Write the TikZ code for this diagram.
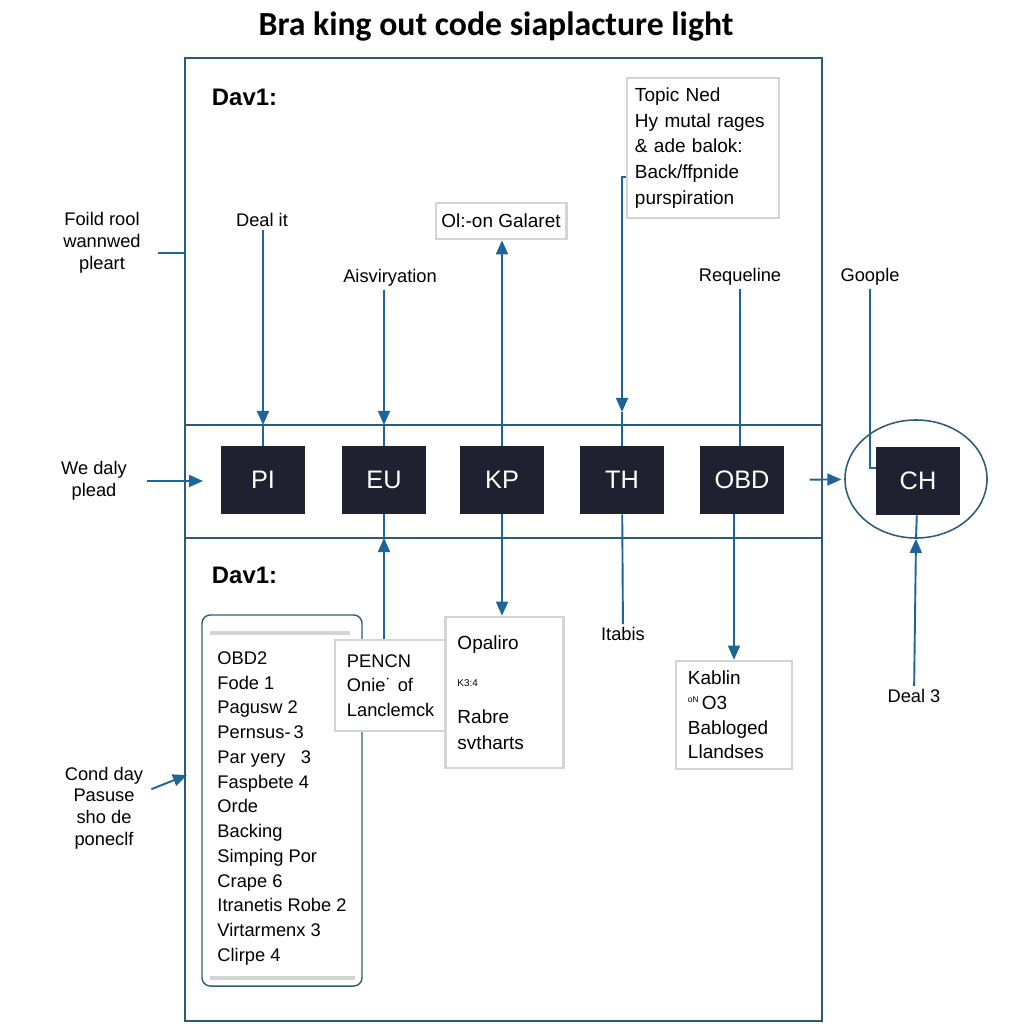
\documentclass[tikz,border=0pt]{standalone}
\usepackage{fontspec}
\setmainfont{Liberation Sans}
\newfontfamily\titlefont{Carlito}
\usetikzlibrary{arrows.meta,positioning,shapes.geometric}

\definecolor{framecol}{HTML}{2D5B76}
\definecolor{wirecol}{HTML}{1F6496}
\definecolor{chipcol}{HTML}{1F2130}
\definecolor{boxgray}{HTML}{D4D4D4}

\begin{document}
\begin{tikzpicture}[
    x=0.025cm, y=-0.025cm, % pixel grid of the reference
    lbl/.style={align=center,font=\fontsize{13}{15.5}\selectfont,inner sep=2pt},
    head/.style={anchor=west,font=\fontsize{17}{20}\selectfont\bfseries},
    chip/.style={fill=chipcol,text=white,minimum width=2.1cm,minimum height=1.7cm,font=\fontsize{18}{21}\selectfont},
    tbox/.style={draw=boxgray,line width=1.8pt,fill=white,align=left,inner xsep=0.3cm,font=\fontsize{13.5}{18.4}\selectfont},
    listbox/.style={draw=framecol,line width=1pt,rounded corners=6pt,fill=white,minimum width=4cm,minimum height=9.275cm},
    listtext/.style={align=left,font=\fontsize{13}{17.6}\selectfont},
    outline/.style={draw=framecol,line width=1.4pt},
    wire/.style={draw=wirecol,line width=1.35pt},
    arrow/.style={wire,-{Triangle[length=10pt,width=8.5pt]}}
]
\useasboundingbox (0,0) rectangle (1024,1024);

% Title and frame
\node[font=\titlefont\fontsize{24}{28}\selectfont\bfseries] (title) at (496,27) {Bra king out code siaplacture light};
\draw[outline] (185,58) rectangle (822,1021);
\coordinate (bandtop) at (185,425);
\coordinate (bandbot) at (185,538);
\draw[outline,line width=1.2pt] (bandtop) -- (822,425);
\draw[outline,line width=1.2pt] (bandbot) -- (822,538);

\node[head] (dav1) at (207,97) {Dav1:};
\node[head] (dav2) at (207,575) {Dav1:};

% Chips
\foreach \n/\x in {PI/263,EU/384,KP/502,TH/622,OBD/742}
    \node[chip] (\n) at (\x,480) {\n};
\node[chip] (CH) at (918,481) {CH};
\node[draw=framecol,line width=1.1pt,ellipse,minimum width=3.55cm,minimum height=2.95cm] (ring) at (916,479) {};

% Labels
\node[lbl] (foild) at (102,243) {Foild rool\\wannwed\\pleart};
\node[lbl] (daly) at (94,481) {We daly\\plead};
\node[lbl] (cond) at (104,808) {Cond day\\Pasuse\\sho de\\poneclf};
\node[lbl] (dealit) at (262,220) {Deal it};
\node[lbl] (aisv) at (390,278) {Aisviryation};
\node[lbl] (requ) at (740,277) {Requeline};
\node[lbl] (goople) at (870,277) {Goople};
\node[lbl] (itabis) at (623,634) {Itabis};
\node[lbl] (deal3) at (914,696) {Deal 3};

% Boxes
\node[tbox,minimum width=3.2cm,minimum height=0.9cm,inner xsep=4pt] (galaret) at (501,221) {Ol:-on Galaret};
\node[tbox,text width=3.4cm,inner xsep=0.2cm,minimum height=3.5cm] (topic) at (703,148)
    {Topic Ned\\Hy mutal rages\\\& ade balok:\\Back/ffpnide\\purspiration};
\node[listbox] (list) at (282,800.5) {};
\node[listtext] (listtext) at (282,808.5)
    {OBD2\\Fode 1\\Pagusw 2\\Pernsus-\,3\\Par yery\ \ \ 3\\Faspbete 4\\Orde\\Backing\\Simping Por\\Crape 6\\Itranetis Robe 2\\Virtarmenx 3\\Clirpe\ 4};
\draw[boxgray,line width=3pt] (210,633) -- (350,633);
\draw[boxgray,line width=3pt] (210,978) -- (355,978);
\node[tbox,text width=2.15cm,minimum height=2.275cm,font=\fontsize{13}{17.4}\selectfont] (pencn) at (390,685.5)
    {PENCN\\Onie˙ of\\Lanclemck};
\node[tbox,text width=2.35cm,minimum height=3.775cm,font=\fontsize{13.5}{18.4}\selectfont] (opaliro) at (504.5,692.5)
    {Opaliro\\[8pt]{\fontsize{7}{8}\selectfont K3:4}\\[8pt]Rabre\\svtharts};
\node[tbox,text width=2.3cm,minimum height=2.7cm,font=\fontsize{13.5}{17.6}\selectfont] (kablin) at (734,715)
    {Kablin\\\raisebox{.7ex}{\fontsize{6}{7}\selectfont oN}\,O3\\Babloged\\Llandses};

% Connectors above the band
\coordinate (thjog) at (622,177);
\coordinate (thtip) at (622,412);
\draw[arrow] (PI |- dealit.south) -- (PI |- bandtop);
\draw[wire] (PI |- bandtop) -- (PI);
\draw[arrow] (EU |- aisv.south) -- (EU |- bandtop);
\draw[wire] (EU |- bandtop) -- (EU);
\draw[arrow] (KP) -- (KP |- galaret.south);
\draw[arrow] (topic.west |- thjog) -- (thjog) -- (thtip);
\draw[wire] (thtip) -- (TH);
\draw[wire] (requ) -- (requ |- OBD.north);
\coordinate (gooplein) at (876,468);
\draw[wire] (goople) |- (gooplein);

% Connectors below the band
\draw[arrow] (EU |- pencn.north) -- (EU |- bandbot);
\draw[wire] (EU |- bandbot) -- (EU);
\draw[arrow] (KP) -- (KP |- opaliro.north);
\draw[wire] (TH) -- (itabis);
\draw[arrow] (kablin |- OBD.south) -- (kablin);
\draw[arrow] (deal3) -- (ring.south);
\draw[wire] (ring.south) -- (CH);

% Side arrows
\coordinate (foildin) at (185,253);
\coordinate (dalyin) at (203,481);
\coordinate (condin) at (187,775);
\draw[wire,shorten <=10pt] (foild.east |- foildin) -- (foildin);
\draw[arrow,shorten <=12pt] (daly) -- (dalyin);
\draw[arrow,shorten <=4pt] (cond) -- (condin);
\draw[arrow,shorten <=18pt,shorten >=2pt] (OBD) -- (ring);

\end{tikzpicture}
\end{document}
